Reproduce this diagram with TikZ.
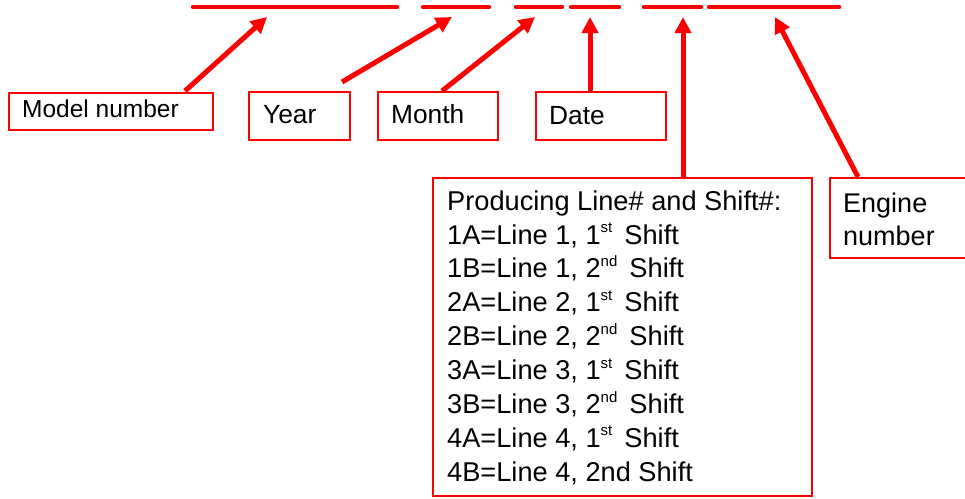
\documentclass[tikz,border=0pt]{standalone}
\usepackage{fontspec}
\setmainfont{Liberation Sans}
\usetikzlibrary{arrows.meta}
\definecolor{pure}{RGB}{255,0,0}
\newcommand\sups[1]{\raisebox{0.42em}{\fontsize{15}{15}\selectfont #1}\,}
\tikzset{
  box/.style={draw=pure, line width=2pt, rectangle, inner sep=0pt, anchor=north west},
  lbl/.style={inner sep=0pt, anchor=base west, font=\fontsize{26.3}{30}\selectfont},
  blk/.style={inner sep=0pt, anchor=north west, align=left, font=\fontsize{27.2}{33.9}\selectfont},
  seg/.style={draw=pure, line width=4.5pt, line cap=round},
  arr/.style={draw=pure, line width=5pt, -{Triangle[length=16pt,width=16pt]}}
}
\begin{document}
\begin{tikzpicture}[x=1pt,y=-1pt]
\clip (0,0) rectangle (965,498);
\fill[white] (0,0) rectangle (965,498);
% top segments
\coordinate (s1a) at (193,7); \coordinate (s1b) at (397,7);
\coordinate (s2a) at (423,7); \coordinate (s2b) at (489,7);
\coordinate (s3a) at (516,7); \coordinate (s3b) at (562,7);
\coordinate (s4a) at (571,7); \coordinate (s4b) at (619,7);
\coordinate (s5a) at (644,7); \coordinate (s5b) at (701,7);
\coordinate (s6a) at (709,7); \coordinate (s6b) at (839,7);
\draw[seg] (s1a) -- (s1b);
\draw[seg] (s2a) -- (s2b);
\draw[seg] (s3a) -- (s3b);
\draw[seg] (s4a) -- (s4b);
\draw[seg] (s5a) -- (s5b);
\draw[seg] (s6a) -- (s6b);
% boxes
\node[box, minimum width=204pt, minimum height=37pt] (model) at (8,92) {};
\node[box, minimum width=101pt, minimum height=48pt] (year) at (248,91) {};
\node[box, minimum width=120pt, minimum height=48pt] (month) at (377,91) {};
\node[box, minimum width=130pt, minimum height=48pt] (date) at (535,91) {};
\node[box, minimum width=379pt, minimum height=318pt] (prod) at (432,177) {};
\node[box, minimum width=160pt, minimum height=80pt] (engine) at (829,177) {};
% texts
\node[lbl, font=\fontsize{24.5}{28}\selectfont] (modelT) at (22,117) {Model number};
\node[lbl] (yearT) at (263,123) {Year};
\node[lbl] (monthT) at (391,123) {Month};
\node[lbl] (dateT) at (549,124) {Date};
\node[blk] (prodT) at (447,190.2) {Producing Line\# and Shift\#:\\
1A=Line 1, 1\sups{st} Shift\\
1B=Line 1, 2\sups{nd} Shift\\
2A=Line 2, 1\sups{st} Shift\\
2B=Line 2, 2\sups{nd} Shift\\
3A=Line 3, 1\sups{st} Shift\\
3B=Line 3, 2\sups{nd} Shift\\
4A=Line 4, 1\sups{st} Shift\\
4B=Line 4, 2nd Shift};
\node[blk, font=\fontsize{27}{33}\selectfont] (engineT) at (843,192.3) {Engine\\number};
% arrow coordinates
\coordinate (mS) at (185,91);  \coordinate (mT) at (267,17);
\coordinate (yS) at (342,82);  \coordinate (yT) at (452,17);
\coordinate (nS) at (442,91);  \coordinate (nT) at (535,17);
\coordinate (dT) at (590,17);
\coordinate (pT) at (683,17);
\coordinate (eS) at (858,177); \coordinate (eT) at (775,17);
\draw[arr] (mS) -- (mT);
\draw[arr] (yS) -- (yT);
\draw[arr] (nS) -- (nT);
\draw[arr] (date.north -| dT) -- (dT);
\draw[arr] (prod.north -| pT) -- (pT);
\draw[arr] (eS) -- (eT);
\end{tikzpicture}
\end{document}
